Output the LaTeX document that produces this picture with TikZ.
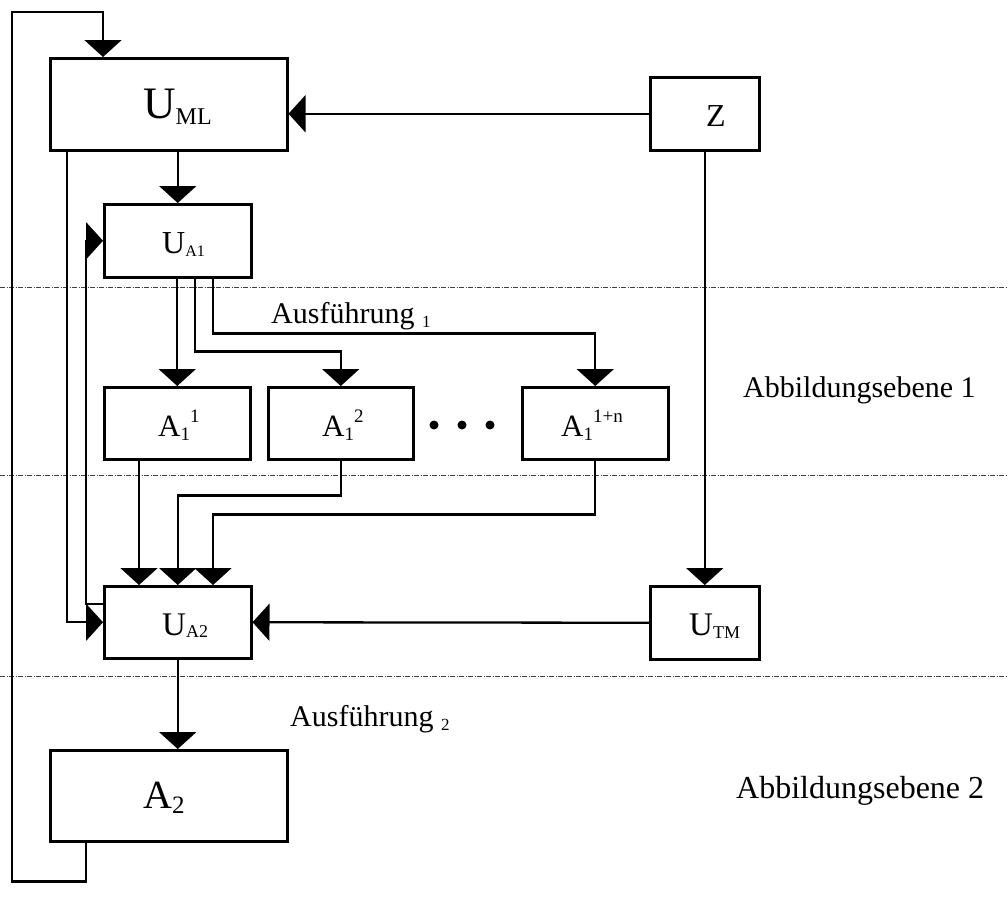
\documentclass[tikz,border=0pt]{standalone}
\usepackage{fontspec}
\setmainfont{Liberation Serif}
\usetikzlibrary{arrows.meta}
\newcommand{\fsz}[1]{\fontsize{#1}{#1}\selectfont}
\begin{document}
\begin{tikzpicture}[x=1pt,y=-1pt,
  box/.style={draw,line width=2.5pt,inner sep=0pt,anchor=north west},
  conn/.style={line width=2.3pt},
  arr/.style={conn,-{Triangle[length=17pt,width=37pt]}},
  lab/.style={anchor=base west,inner sep=0pt},
  level/.style={line width=0.8pt,black!75,dash pattern=on 5pt off 1.5pt on 1pt off 1.5pt},
  dot/.style={circle,fill,inner sep=0pt,minimum size=9pt}]
\useasboundingbox (0,0) rectangle (1008,902);
% level lines
\draw[level] (0,287) -- (1008,287);
\draw[level] (0,475) -- (1008,475);
\draw[level] (0,676) -- (1008,676);
% boxes
\node[box,minimum width=237pt,minimum height=92pt] (UML) at (49,57) {};
\node[box,minimum width=109pt,minimum height=73pt] (Z) at (649,76) {};
\node[box,minimum width=147pt,minimum height=73pt] (UA1) at (103,203) {};
\node[box,minimum width=146pt,minimum height=72pt] (A11) at (103,386) {};
\node[box,minimum width=145pt,minimum height=72pt] (A12) at (267,386) {};
\node[box,minimum width=146pt,minimum height=72pt] (A1n) at (521,386) {};
\node[box,minimum width=147pt,minimum height=72pt] (UA2) at (103,585) {};
\node[box,minimum width=109pt,minimum height=73pt] (UTM) at (649,585) {};
\node[box,minimum width=237pt,minimum height=91pt] (A2) at (49,749) {};
% labels
\node[lab] (tUML) at (143,118) {\fsz{45}U\raisebox{-6pt}{\fsz{24}ML}};
\node[lab] (tZ) at (706,126) {\fsz{32}Z};
\node[lab] (tUA1) at (162,253) {\fsz{32}U\raisebox{-3pt}{\fsz{16}A1}};
\node[lab] (tA11) at (158,436) {\fsz{31}A\raisebox{-4pt}{\fsz{19}1}\raisebox{14pt}{\fsz{19}1}};
\node[lab] (tA12) at (322,436) {\fsz{31}A\raisebox{-4pt}{\fsz{19}1}\raisebox{14pt}{\fsz{19}2}};
\node[lab] (tA1n) at (561,436) {\fsz{31}A\raisebox{-4pt}{\fsz{19}1}\raisebox{14pt}{\fsz{19}1+n}};
\node[lab] (tUA2) at (162,635) {\fsz{33}U\raisebox{-2pt}{\fsz{18}A2}};
\node[lab] (tUTM) at (689,635) {\fsz{33}U\raisebox{-3pt}{\fsz{18}TM}};
\node[lab] (tA2) at (143,808) {\fsz{40}A\raisebox{-5pt}{\fsz{25}2}};
\node[lab] (aus1) at (271,323) {\fsz{30}Ausführung \raisebox{-4pt}{\fsz{17}1}};
\node[lab] (aus2) at (290,726) {\fsz{30}Ausführung \raisebox{-4pt}{\fsz{17}2}};
\node[lab] (ebene1) at (743,397) {\fsz{30}Abbildungsebene 1};
\node[lab] (ebene2) at (736,798) {\fsz{32}Abbildungsebene 2};
% dots
\node[dot] (d1) at (434,425) {};
\node[dot] (d2) at (462,425) {};
\node[dot] (d3) at (490,425) {};
% connectors
\draw[arr] ([xshift=37pt]A2.south west) -- ++(0,39) -| (12,12) -| ([xshift=54pt]UML.north west);
\draw[arr] (Z.west) -- (Z.west -| UML.east);
\draw[arr] (UA1.north |- UML.south) -- (UA1.north);
\draw[arr] ([xshift=18pt]UML.south west) |- (UA2.west);
\draw[arr] ([yshift=18pt]UA2.west) -- ++(-17,0) |- (UA1.west);
\draw[arr] (A11.north |- UA1.south) -- (A11.north);
\draw[arr] ([xshift=92pt]UA1.south west) -- ++(0,73) -| (A12.north);
\draw[arr] ([xshift=110pt]UA1.south west) -- ++(0,55) -| (A1n.north);
\coordinate (in1) at ([xshift=36pt]UA2.north west);
\coordinate (in2) at (UA2.north);
\coordinate (in3) at ([xshift=110pt]UA2.north west);
\draw[arr] (in1 |- A11.south) -- (in1);
\draw[arr] (A12.south) -- ++(0,35) -| (in2);
\draw[arr] (A1n.south) -- ++(0,54) -| (in3);
\draw[arr] (Z.south) -- (UTM.north);
\draw[arr] (UTM.west) -- (UA2.east);
\draw[arr] (UA2.south) -- (UA2.south |- A2.north);
\end{tikzpicture}
\end{document}
